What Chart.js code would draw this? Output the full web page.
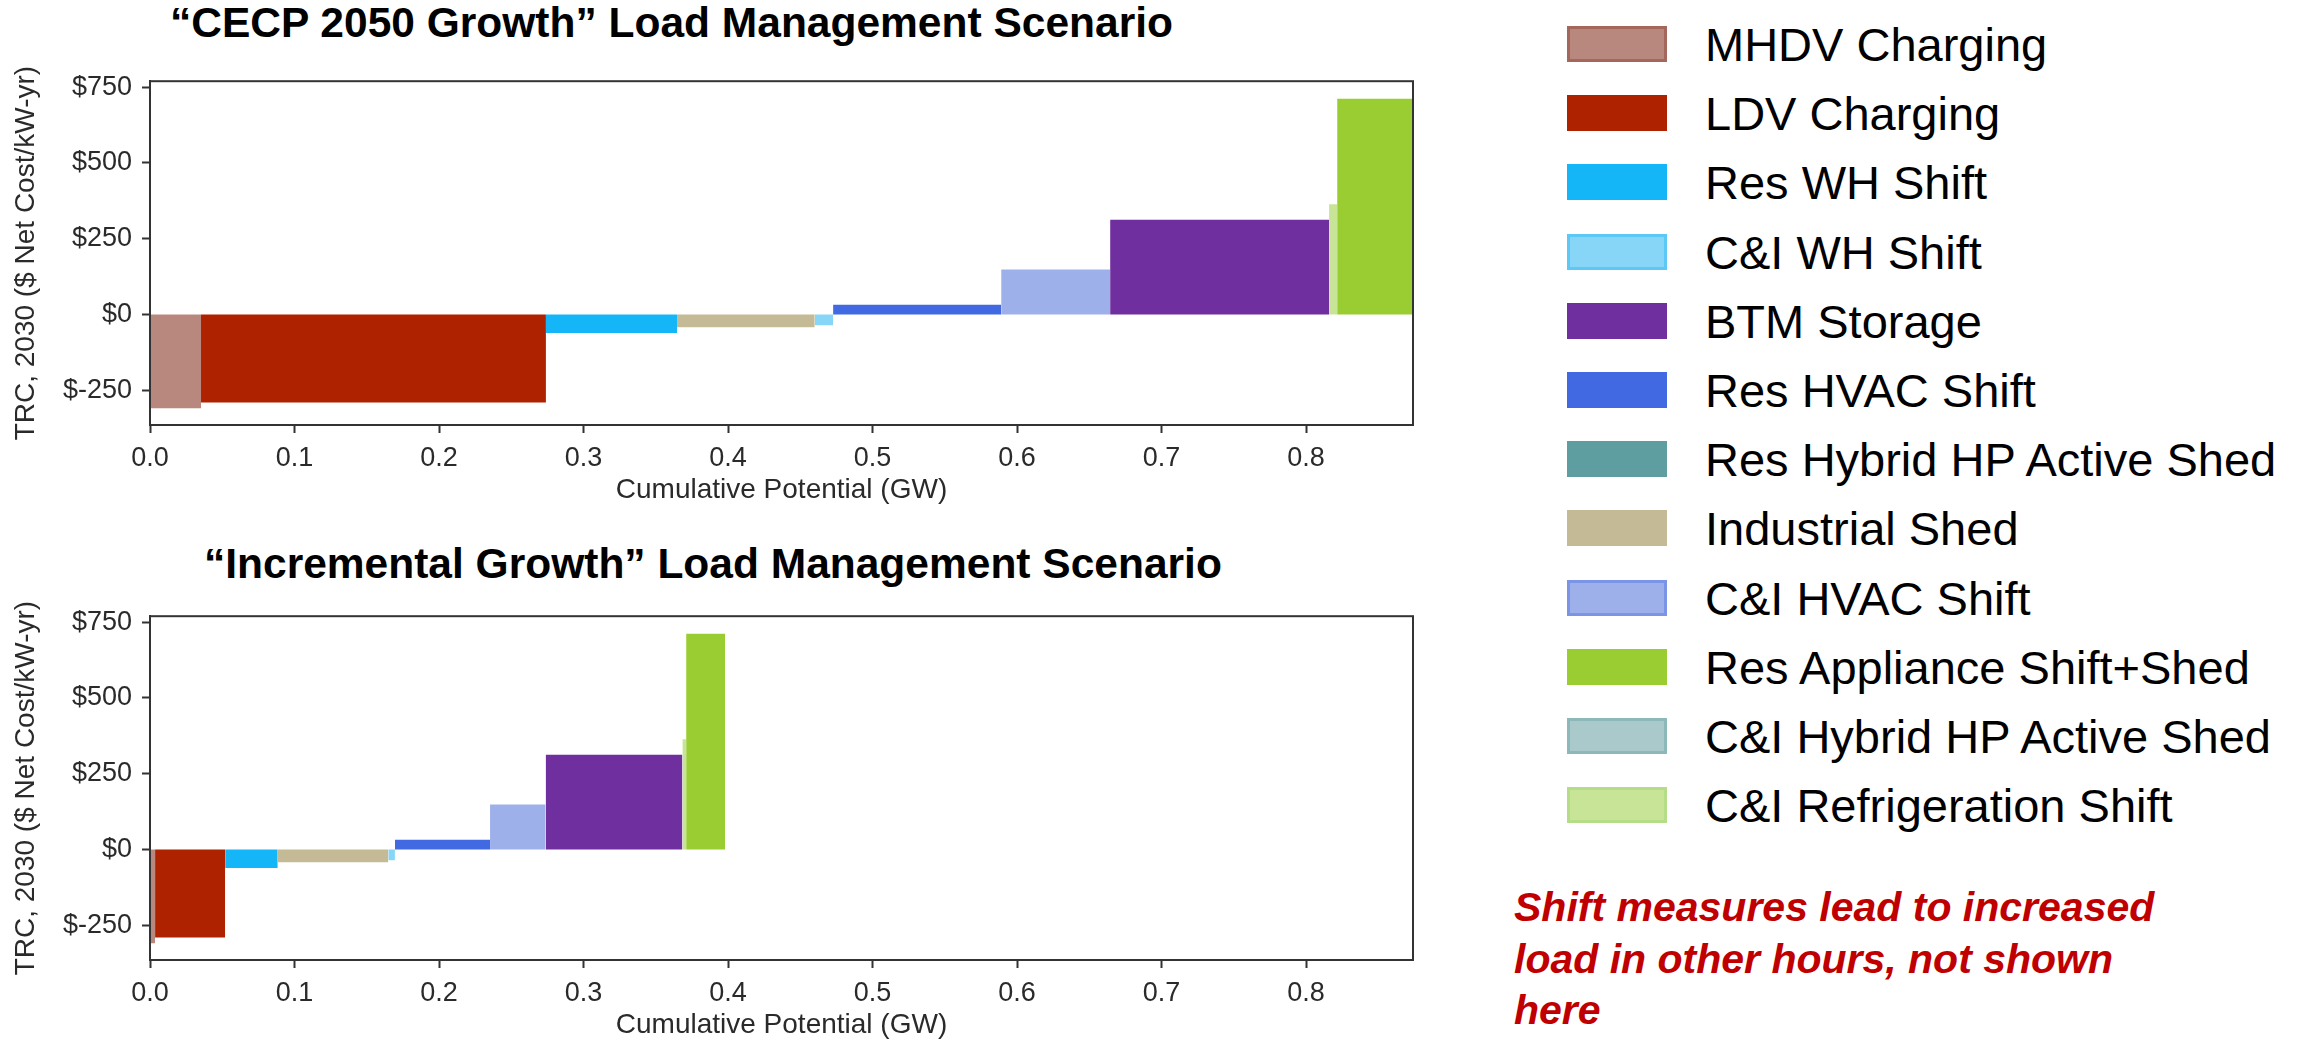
<!DOCTYPE html>
<html>
<head>
    <title>Load Management Scenarios</title>
    <meta charset="UTF-8">
    <style>
        body {
            margin: 0;
            width: 2302px;
            height: 1044px;
            background: #fff;
            position: relative;
            overflow: hidden;
            font-family: "Liberation Sans", Arial, sans-serif;
        }
        .chart-title {
            position: absolute;
            font-weight: bold;
            font-size: 42.5px;
            line-height: 42px;
            color: #000;
            white-space: nowrap;
        }
        .chart-box {
            position: absolute;
            left: 0;
            width: 1440px;
            height: 452px;
        }
        .legend-swatch {
            position: absolute;
            left: 1567px;
            width: 100px;
            height: 36px;
            box-sizing: border-box;
        }
        .legend-text {
            position: absolute;
            left: 1705px;
            font-size: 47px;
            line-height: 46px;
            color: #000;
            white-space: nowrap;
        }
        .note {
            position: absolute;
            left: 1514px;
            top: 882px;
            font-size: 41px;
            line-height: 51.5px;
            font-weight: bold;
            font-style: italic;
            color: #c00000;
            white-space: nowrap;
        }
    </style>
    <script src="https://cdn.jsdelivr.net/npm/chart.js"></script>
    <script>
        // measures, as listed in the legend
        const measures = [
            'MHDV Charging', 'LDV Charging', 'Res WH Shift', 'C&I WH Shift',
            'BTM Storage', 'Res HVAC Shift', 'Res Hybrid HP Active Shed', 'Industrial Shed',
            'C&I HVAC Shift', 'Res Appliance Shift+Shed', 'C&I Hybrid HP Active Shed', 'C&I Refrigeration Shift'
        ];
        const measureColors = [
            '#b8887e', '#ae2200', '#14b6f8', '#88d6f7',
            '#6f2f9f', '#4169e1', '#5f9ea0', '#c4bb96',
            '#9db0ea', '#9acd32', '#aac9ca', '#c8e597'
        ];
        const swatchBorders = [
            '#a3675b', '#ae2200', '#14b6f8', '#5cc8f5',
            '#6f2f9f', '#4169e1', '#5f9ea0', '#c4bb96',
            '#7b94e6', '#9acd32', '#8db8b9', '#b5dc86'
        ];

        // TRC 2030, $ net cost per kW-yr
        const trcCost = [-310, -291, -61, -36, 313, 32, 0, -42, 148, 712, 0, 364];

        // potential of each measure in GW (width of each step)
        const cecpPotential = [0.0353, 0.2387, 0.0907, 0.0127, 0.1515, 0.1163, 0, 0.0953, 0.0754, 0.06, 0, 0.0056];
        const incrementalPotential = [0.0035, 0.0485, 0.0364, 0.0046, 0.0946, 0.0658, 0, 0.0765, 0.0385, 0.027, 0, 0.0026];

        const xTicks = [0, 0.1, 0.2, 0.3, 0.4, 0.5, 0.6, 0.7, 0.8];
        const xTickLabels = ['0.0', '0.1', '0.2', '0.3', '0.4', '0.5', '0.6', '0.7', '0.8'];
        const yTicks = [-250, 0, 250, 500, 750];
        const yTickLabels = ['$-250', '$0', '$250', '$500', '$750'];

        const FONT = "'Liberation Sans', Arial, sans-serif";

        // steps sorted by cost, each one a filled flat line from x0 to x1
        function buildDatasets(potential) {
            const order = measures.map((m, i) => i).sort((a, b) => trcCost[a] - trcCost[b]);
            const sets = [];
            let x = 0;
            order.forEach(i => {
                if (potential[i] <= 0) return;
                const x0 = x;
                x += potential[i];
                sets.push({
                    label: measures[i],
                    data: [{ x: x0, y: trcCost[i] }, { x: x, y: trcCost[i] }],
                    showLine: true,
                    fill: 'origin',
                    backgroundColor: measureColors[i],
                    borderColor: 'transparent',
                    borderWidth: 0,
                    pointRadius: 0,
                    tension: 0
                });
            });
            return sets;
        }

        // matplotlib style frame round the plot
        const boxBorder = {
            id: 'boxBorder',
            afterDraw(chart) {
                const { ctx, chartArea: a } = chart;
                ctx.save();
                ctx.strokeStyle = '#333';
                ctx.lineWidth = 2;
                ctx.strokeRect(a.left, a.top, a.right - a.left, a.bottom - a.top);
                ctx.restore();
            }
        };

        function renderChart(canvasId, potential) {
            const ctx = document.getElementById(canvasId).getContext('2d');
            new Chart(ctx, {
                type: 'scatter',
                data: { datasets: buildDatasets(potential) },
                plugins: [boxBorder],
                options: {
                    responsive: true,
                    maintainAspectRatio: false,
                    animation: false,
                    devicePixelRatio: 1,
                    layout: { padding: { top: 15, right: 27, bottom: 0, left: 0 } },
                    plugins: {
                        legend: { display: false },
                        tooltip: { enabled: false }
                    },
                    scales: {
                        x: {
                            type: 'linear',
                            min: 0,
                            max: 0.874,
                            afterBuildTicks: s => { s.ticks = xTicks.map(v => ({ value: v })); },
                            afterFit: s => { s.height = 82; },
                            grid: {
                                display: true,
                                drawOnChartArea: false,
                                drawTicks: true,
                                tickLength: 8,
                                tickWidth: 2,
                                tickColor: '#333'
                            },
                            border: { display: true, color: '#333', width: 2 },
                            ticks: {
                                autoSkip: false,
                                maxRotation: 0,
                                padding: 9,
                                color: '#2a2a2a',
                                font: { family: FONT, size: 27 },
                                callback: (v, i) => xTickLabels[i]
                            },
                            title: {
                                display: true,
                                text: 'Cumulative Potential (GW)',
                                color: '#2a2a2a',
                                font: { family: FONT, size: 28 },
                                padding: { top: 0, bottom: 0 }
                            }
                        },
                        y: {
                            min: -365,
                            max: 770,
                            afterBuildTicks: s => { s.ticks = yTicks.map(v => ({ value: v })); },
                            afterFit: s => { s.width = 150; },
                            grid: {
                                display: true,
                                drawOnChartArea: false,
                                drawTicks: true,
                                tickLength: 8,
                                tickWidth: 2,
                                tickColor: '#333'
                            },
                            border: { display: true, color: '#333', width: 2 },
                            ticks: {
                                padding: 10,
                                color: '#2a2a2a',
                                font: { family: FONT, size: 27 },
                                callback: (v, i) => yTickLabels[i]
                            },
                            title: {
                                display: true,
                                text: 'TRC, 2030 ($ Net Cost/kW-yr)',
                                color: '#2a2a2a',
                                font: { family: FONT, size: 28 },
                                padding: { top: 9, bottom: 0 }
                            }
                        }
                    }
                }
            });
        }

        function renderLegend() {
            const pitch = 69.2;
            measures.forEach((m, i) => {
                const sw = document.createElement('div');
                sw.className = 'legend-swatch';
                sw.style.top = (26 + i * pitch) + 'px';
                sw.style.background = measureColors[i];
                sw.style.border = '3px solid ' + swatchBorders[i];
                document.body.appendChild(sw);

                const tx = document.createElement('div');
                tx.className = 'legend-text';
                tx.style.top = (22 + i * pitch) + 'px';
                tx.textContent = m;
                document.body.appendChild(tx);
            });
        }

        window.onload = function () {
            renderChart('chartCecp', cecpPotential);
            renderChart('chartIncremental', incrementalPotential);
            renderLegend();
        };
    </script>
</head>
<body>

<div class="chart-title" style="left:170px; top:2px;">“CECP 2050 Growth” Load Management Scenario</div>
<div class="chart-box" style="top:55px;">
    <canvas id="chartCecp"></canvas>
</div>

<div class="chart-title" style="left:204px; top:543px;">“Incremental Growth” Load Management Scenario</div>
<div class="chart-box" style="top:590px;">
    <canvas id="chartIncremental"></canvas>
</div>

<div class="note">Shift measures lead to increased<br>load in other hours, not shown<br>here</div>

</body>
</html>
